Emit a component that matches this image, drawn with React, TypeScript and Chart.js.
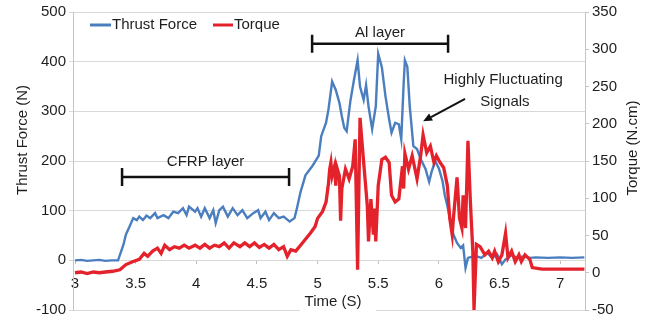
import React, { useEffect, useRef } from "react";
import { Chart, registerables } from "chart.js";

Chart.register(...registerables);

// ---- data ----
const thrustTime = [
  3.0, 3.05, 3.1, 3.15, 3.2, 3.25, 3.3, 3.355, 3.4, 3.42, 3.45, 3.48, 3.51, 3.53, 3.56, 3.59, 3.62, 3.66, 3.68,
  3.73, 3.77, 3.81, 3.85, 3.89, 3.92, 3.94, 3.99, 4.01, 4.04, 4.07, 4.11, 4.14, 4.16, 4.19, 4.22, 4.26, 4.3,
  4.34, 4.38, 4.42, 4.47, 4.51, 4.53, 4.57, 4.6, 4.64, 4.68, 4.72, 4.77, 4.81, 4.83, 4.86, 4.9, 4.96, 5.01,
  5.03, 5.07, 5.09, 5.12, 5.15, 5.18, 5.2, 5.22, 5.24, 5.27, 5.3, 5.33, 5.35, 5.38, 5.4, 5.42, 5.45, 5.48,
  5.5, 5.53, 5.56, 5.59, 5.61, 5.64, 5.67, 5.69, 5.71, 5.72, 5.74, 5.76, 5.79, 5.82, 5.85, 5.89, 5.92, 5.94,
  5.97, 6.0, 6.03, 6.05, 6.07, 6.09, 6.12, 6.15, 6.18, 6.2, 6.22, 6.24, 6.3, 6.35, 6.4, 6.44, 6.48, 6.52,
  6.55, 6.6, 6.65, 6.7, 6.75, 6.8, 6.9, 7.0, 7.1, 7.2,
];
const thrustValues = [
  0, 1, -1, 0, 1, -1, 0, 0, 32, 52, 68, 85, 81, 88, 81, 90, 85, 95, 85,
  91, 85, 98, 95, 105, 91, 108, 98, 105, 88, 105, 85, 101, 75, 101, 108, 88, 105,
  91, 101, 85, 95, 101, 85, 98, 81, 95, 85, 88, 78, 85, 105, 138, 171, 191, 211,
  250, 277, 304, 360, 343, 317, 290, 267, 260, 320, 363, 403, 350, 323, 353, 310, 264, 310,
  416, 389, 330, 284, 257, 277, 274, 244, 357, 403, 390, 310, 230, 224, 204, 184, 158, 178,
  200, 185, 160, 130, 110, 85, 52, 35, 25, 30, -15, 5, 9, 5, 15, 5, 12, -8,
  2, 10, 5, 8, 5, 6, 5, 6, 5, 6,
];
const torqueTime = [
  3.0, 3.05, 3.1, 3.15, 3.2, 3.25, 3.31, 3.37, 3.42, 3.48, 3.53, 3.57, 3.6, 3.64, 3.68, 3.71, 3.74, 3.78, 3.82,
  3.86, 3.9, 3.94, 3.99, 4.03, 4.07, 4.11, 4.15, 4.19, 4.23, 4.27, 4.31, 4.36, 4.4, 4.44, 4.48, 4.52, 4.56,
  4.6, 4.64, 4.68, 4.72, 4.75, 4.78, 4.82, 4.86, 4.9, 4.94, 4.98, 5.0, 5.04, 5.07, 5.09, 5.1, 5.11, 5.12,
  5.14, 5.15, 5.16, 5.18, 5.19, 5.2, 5.23, 5.26, 5.29, 5.31, 5.33, 5.35, 5.38, 5.41, 5.42, 5.44, 5.46, 5.47,
  5.48, 5.5, 5.53, 5.56, 5.59, 5.61, 5.64, 5.67, 5.7, 5.71, 5.72, 5.75, 5.78, 5.82, 5.85, 5.87, 5.9, 5.93,
  5.96, 5.98, 6.01, 6.04, 6.07, 6.09, 6.11, 6.12, 6.15, 6.17, 6.19, 6.2, 6.22, 6.24, 6.26, 6.28, 6.29, 6.31,
  6.34, 6.38, 6.41, 6.44, 6.46, 6.49, 6.52, 6.55, 6.57, 6.6, 6.63, 6.66, 6.68, 6.71, 6.75, 6.77, 6.85, 7.0, 7.2,
];
const torqueValues = [
  0, 1, -1, 1, 0, 1, 2, 4, 11, 15, 18, 26, 22, 29, 33, 26, 37, 31, 35,
  33, 37, 33, 37, 33, 38, 33, 37, 35, 40, 33, 40, 35, 40, 35, 40, 34, 38,
  33, 38, 31, 35, 22, 31, 29, 37, 45, 53, 62, 73, 82, 95, 120, 139, 148, 130,
  143, 117, 141, 130, 70, 113, 139, 126, 143, 179, 4, 208, 148, 90, 42, 99, 51, 86,
  42, 117, 152, 155, 148, 104, 95, 99, 143, 113, 160, 139, 157, 126, 157, 185, 161, 170,
  148, 157, 148, 141, 117, 73, 51, 73, 128, 73, 60, 104, 60, 177, 95, 29, -50, 38,
  35, 24, 29, 20, 29, 15, 24, 53, 20, 29, 15, 24, 15, 24, 18, 7, 5, 5, 5,
];

const seriesNames = ["Thrust Force", "Torque"];
const xTicks = [3, 3.5, 4, 4.5, 5, 5.5, 6, 6.5, 7];
const leftTicks = [-100, 0, 100, 200, 300, 400, 500];
const rightTicks = [-50, 0, 50, 100, 150, 200, 250, 300, 350];

// annotations (time, left-axis units)
const layerLabels = ["CFRP layer", "Al layer"];
const layerStart = [3.388, 4.955];
const layerEnd = [4.765, 6.076];
const layerBracketLevel = [168, 436];
const layerLabelLevel = [198, 458];
const noteLines = ["Highly Fluctuating", "Signals"];
const noteTime = [6.53, 6.545];
const noteLevel = [363, 319];
const arrowFrom = [6.216, 325];
const arrowTo = [5.87, 280];

const FONT = '"Liberation Sans", Arial, sans-serif';
const TEXT = "#1e1e1e";
const BLUE = "#4a7ebf";
const RED = "#e4222b";

const overlay = {
  id: "overlay",
  beforeDatasetsDraw(chart: any) {
    const ctx = chart.ctx;
    ctx.save();
    ctx.fillStyle = "#ffffff";
    ctx.fillRect(300, 290, 76, 30);
    ctx.restore();
  },
  afterDatasetsDraw(chart: any) {
    const ctx = chart.ctx;
    const xs = chart.scales.x;
    const ys = chart.scales.y;
    ctx.save();
    ctx.font = `15px ${FONT}`;
    ctx.fillStyle = TEXT;
    ctx.textBaseline = "middle";

    // axis titles
    ctx.textAlign = "center";
    ctx.fillText("Time (S)", 333, 302);
    ctx.save();
    ctx.translate(23, 140);
    ctx.rotate(-Math.PI / 2);
    ctx.fillText("Thrust Force (N)", 0, 0);
    ctx.restore();
    ctx.save();
    ctx.translate(633, 148);
    ctx.rotate(-Math.PI / 2);
    ctx.fillText("Torque (N.cm)", 0, 0);
    ctx.restore();

    // legend
    ctx.lineWidth = 3;
    ctx.strokeStyle = BLUE;
    ctx.beginPath();
    ctx.moveTo(90, 25);
    ctx.lineTo(111, 25);
    ctx.stroke();
    ctx.textAlign = "left";
    ctx.fillText(seriesNames[0], 112, 25);
    ctx.strokeStyle = RED;
    ctx.beginPath();
    ctx.moveTo(213, 25);
    ctx.lineTo(233, 25);
    ctx.stroke();
    ctx.fillText(seriesNames[1], 234, 25);

    // layer brackets
    ctx.strokeStyle = "#111";
    ctx.lineWidth = 2.5;
    for (let i = 0; i < layerLabels.length; i++) {
      const x1 = xs.getPixelForValue(layerStart[i]);
      const x2 = xs.getPixelForValue(layerEnd[i]);
      const y = ys.getPixelForValue(layerBracketLevel[i]);
      ctx.beginPath();
      ctx.moveTo(x1, y);
      ctx.lineTo(x2, y);
      ctx.moveTo(x1, y - 9);
      ctx.lineTo(x1, y + 9);
      ctx.moveTo(x2, y - 9);
      ctx.lineTo(x2, y + 9);
      ctx.stroke();
      ctx.textAlign = "center";
      ctx.fillText(layerLabels[i], (x1 + x2) / 2, ys.getPixelForValue(layerLabelLevel[i]));
    }

    // note
    ctx.textAlign = "center";
    for (let i = 0; i < noteLines.length; i++) {
      ctx.fillText(noteLines[i], xs.getPixelForValue(noteTime[i]), ys.getPixelForValue(noteLevel[i]));
    }
    const ax1 = xs.getPixelForValue(arrowFrom[0]);
    const ay1 = ys.getPixelForValue(arrowFrom[1]);
    const ax2 = xs.getPixelForValue(arrowTo[0]);
    const ay2 = ys.getPixelForValue(arrowTo[1]);
    const ang = Math.atan2(ay2 - ay1, ax2 - ax1);
    const hl = 9;
    const bx = ax2 - hl * Math.cos(ang);
    const by = ay2 - hl * Math.sin(ang);
    ctx.lineWidth = 2;
    ctx.beginPath();
    ctx.moveTo(ax1, ay1);
    ctx.lineTo(bx, by);
    ctx.stroke();
    ctx.fillStyle = "#111";
    ctx.beginPath();
    ctx.moveTo(ax2, ay2);
    ctx.lineTo(bx + 4 * Math.sin(ang), by - 4 * Math.cos(ang));
    ctx.lineTo(bx - 4 * Math.sin(ang), by + 4 * Math.cos(ang));
    ctx.closePath();
    ctx.fill();
    ctx.restore();
  },
};

export default function App() {
  const ref = useRef<HTMLCanvasElement | null>(null);
  useEffect(() => {
    document.body.style.margin = "0";
    const canvas = ref.current;
    if (!canvas) return;
    const tickFont = { family: FONT, size: 15 };
    const chart = new Chart(canvas, {
      type: "line",
      data: {
        datasets: [
          {
            label: seriesNames[0],
            data: thrustTime.map((t, i) => ({ x: t, y: thrustValues[i] })),
            borderColor: BLUE,
            borderWidth: 2.4,
            pointRadius: 0,
            tension: 0,
            yAxisID: "y",
            order: 2,
          },
          {
            label: seriesNames[1],
            data: torqueTime.map((t, i) => ({ x: t, y: torqueValues[i] })),
            borderColor: RED,
            borderWidth: 3.3,
            pointRadius: 0,
            tension: 0,
            yAxisID: "y1",
            order: 1,
          },
        ],
      },
      options: {
        animation: false,
        responsive: true,
        maintainAspectRatio: false,
        layout: { padding: { top: 11, bottom: 9, left: 0, right: 0 } },
        plugins: { legend: { display: false }, tooltip: { enabled: false } },
        scales: {
          x: {
            type: "linear",
            min: 2.9835,
            max: 7.205,
            position: { y: 0 } as any,
            afterBuildTicks: (s: any) => {
              s.ticks = xTicks.map((v) => ({ value: v }));
            },
            ticks: {
              font: tickFont,
              color: TEXT,
              padding: 11,
              maxRotation: 0,
              autoSkip: false,
              callback: (v: any) => String(v),
            },
            grid: { drawOnChartArea: false, drawTicks: true, tickLength: 4, color: "#bfbfbf" },
            border: { display: false },
          },
          y: {
            type: "linear",
            position: "left",
            min: -100,
            max: 500,
            afterBuildTicks: (s: any) => {
              s.ticks = leftTicks.map((v) => ({ value: v }));
            },
            ticks: { font: tickFont, color: TEXT, padding: 3 },
            grid: { color: "#d9d9d9", drawTicks: true, tickLength: 4 },
            border: { color: "#c4c4c4" },
            afterFit: (s: any) => {
              s.width = 73;
            },
          },
          y1: {
            type: "linear",
            position: "right",
            min: -50,
            max: 350,
            afterBuildTicks: (s: any) => {
              s.ticks = rightTicks.map((v) => ({ value: v }));
            },
            ticks: { font: tickFont, color: TEXT, padding: 3 },
            grid: { drawOnChartArea: false, drawTicks: true, tickLength: 4, color: "#c4c4c4" },
            border: { color: "#c4c4c4" },
            afterFit: (s: any) => {
              s.width = 62;
            },
          },
        },
      },
      plugins: [overlay],
    } as any);
    return () => chart.destroy();
  }, []);
  return (
    <div style={{ position: "relative", width: 647, height: 322 }}>
      <canvas ref={ref} />
    </div>
  );
}
